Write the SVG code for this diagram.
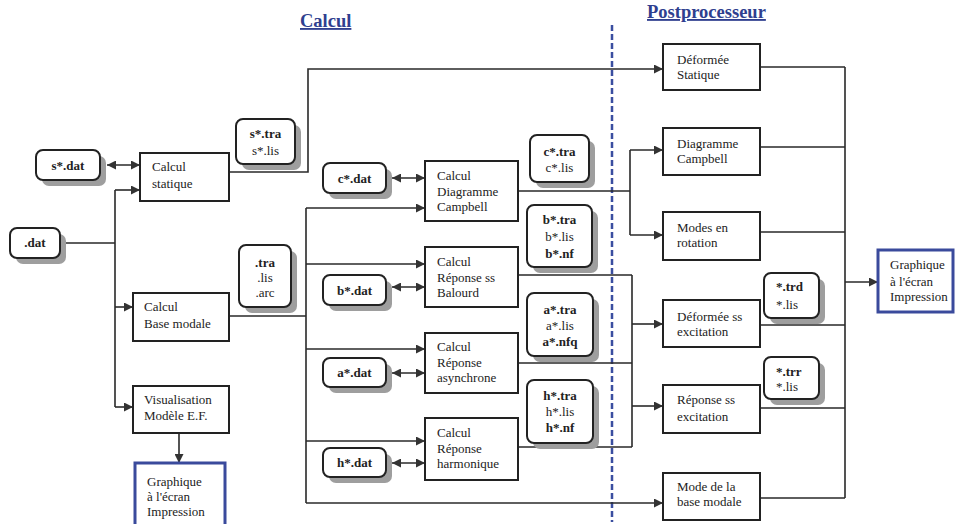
<svg xmlns="http://www.w3.org/2000/svg" width="956" height="524" viewBox="0 0 956 524">
<defs>
<style>
.bg{fill:#ffffff}
.proc{fill:#ffffff;stroke:#222;stroke-width:2}
.file{fill:#ffffff;stroke:#222;stroke-width:2}
.shadow{fill:#9e9e9e}
.out{fill:#ffffff;stroke:#3a4a9c;stroke-width:3}
.t{font-family:"Liberation Serif","Times New Roman",serif;font-size:13px;fill:#222}
.b{font-weight:bold}
.c{text-anchor:middle}
.title{font-family:"Liberation Serif","Times New Roman",serif;font-size:18.5px;font-weight:bold;fill:#2f3f8f;text-decoration:underline}
.ln{fill:none;stroke:#2a2a2a;stroke-width:1.6}
.arr{marker-end:url(#ah)}
.dbl{marker-start:url(#ah);marker-end:url(#ah)}
.dash{stroke:#3a4ea0;stroke-width:2.5;stroke-dasharray:6 3;fill:none}
</style>
<marker id="ah" viewBox="0 0 10 10" refX="10" refY="5" markerWidth="10" markerHeight="9" orient="auto-start-reverse" markerUnits="userSpaceOnUse">
<path d="M0,0 L10,5 L0,10 z" fill="#333"/>
</marker>
</defs>
<rect class="bg" x="0" y="0" width="956" height="524"/>

<g id="titles">
<text class="title" x="300" y="27">Calcul</text>
<text class="title" x="647" y="18">Postprocesseur</text>
<line class="dash" x1="612" y1="25" x2="612" y2="522"/>
</g>

<g id="connectors">
<!-- left column -->
<path class="ln dbl" d="M107,165 H140"/>
<path class="ln" d="M60,243 H115 M115,190 V407"/>
<path class="ln arr" d="M115,190 H140"/>
<path class="ln arr" d="M115,307 H133"/>
<path class="ln arr" d="M115,407 H133"/>
<path class="ln arr" d="M179,433 V463"/>
<!-- static to post -->
<path class="ln arr" d="M229,172 H308 V69 H663"/>
<!-- base modale bus -->
<path class="ln" d="M229,316 H306 M306,208 V503"/>
<path class="ln arr" d="M306,208 H425"/>
<path class="ln arr" d="M306,264 H425"/>
<path class="ln arr" d="M306,349 H425"/>
<path class="ln arr" d="M306,441 H425"/>
<path class="ln arr" d="M306,503 H663"/>
<!-- dat double arrows -->
<path class="ln dbl" d="M392,178 H425"/>
<path class="ln dbl" d="M392,287 H425"/>
<path class="ln dbl" d="M392,373 H425"/>
<path class="ln dbl" d="M392,463 H425"/>
<!-- campbell to post -->
<path class="ln" d="M518,191 H630 M630,150 V235"/>
<path class="ln arr" d="M630,150 H663"/>
<path class="ln arr" d="M630,235 H663"/>
<!-- responses to post -->
<path class="ln" d="M518,275 H632 M518,363 H632 M518,447 H632 M632,275 V447"/>
<path class="ln arr" d="M632,324 H663"/>
<path class="ln arr" d="M632,406 H663"/>
<!-- post to output -->
<path class="ln" d="M760,67 H845 M760,147 H845 M760,232 H845 M760,325 H845 M760,408 H845 M760,498 H845 M845,67 V498"/>
<path class="ln arr" d="M845,282 H878"/>
</g>

<!-- left -->
<g id="sdat">
<rect class="shadow" x="42" y="156" width="64" height="30" rx="7"/>
<rect class="file" x="36" y="150" width="64" height="30" rx="7"/>
<text class="t b c" x="68" y="170">s*.dat</text>
</g>
<g id="dat">
<rect class="shadow" x="16" y="234" width="50" height="30" rx="7"/>
<rect class="file" x="10" y="228" width="50" height="30" rx="7"/>
<text class="t b c" x="35" y="247">.dat</text>
</g>
<g id="calcul-statique">
<rect class="proc" x="140" y="153" width="89" height="48"/>
<text class="t" x="152" y="171">Calcul</text>
<text class="t" x="152" y="188">statique</text>
</g>
<g id="stra">
<rect class="shadow" x="242" y="125" width="59" height="45" rx="7"/>
<rect class="file" x="236" y="119" width="59" height="45" rx="7"/>
<text class="t b c" x="265.5" y="138">s*.tra</text>
<text class="t c" x="265.5" y="155">s*.lis</text>
</g>
<g id="calcul-base-modale">
<rect class="proc" x="133" y="293" width="96" height="48"/>
<text class="t" x="144" y="311">Calcul</text>
<text class="t" x="144" y="328">Base modale</text>
</g>
<g id="tra">
<rect class="shadow" x="245" y="251" width="52" height="62" rx="7"/>
<rect class="file" x="239" y="245" width="52" height="62" rx="7"/>
<text class="t b c" x="265" y="267">.tra</text>
<text class="t c" x="265" y="282">.lis</text>
<text class="t c" x="265" y="297">.arc</text>
</g>
<g id="visualisation">
<rect class="proc" x="133" y="386" width="96" height="47"/>
<text class="t" x="144" y="404">Visualisation</text>
<text class="t" x="144" y="420">Modèle E.F.</text>
</g>
<g id="graphique-left">
<rect class="out" x="135" y="463" width="90" height="70"/>
<text class="t" x="147" y="486">Graphique</text>
<text class="t" x="147" y="501">à l'écran</text>
<text class="t" x="147" y="516">Impression</text>
</g>

<!-- middle -->
<g id="cdat">
<rect class="shadow" x="329" y="169" width="63" height="30" rx="7"/>
<rect class="file" x="323" y="163" width="63" height="30" rx="7"/>
<text class="t b c" x="354.5" y="183">c*.dat</text>
</g>
<g id="calcul-campbell">
<rect class="proc" x="425" y="161" width="93" height="60"/>
<text class="t" x="437" y="180">Calcul</text>
<text class="t" x="437" y="196">Diagramme</text>
<text class="t" x="437" y="211">Campbell</text>
</g>
<g id="ctra">
<rect class="shadow" x="536" y="141" width="59" height="47" rx="7"/>
<rect class="file" x="530" y="135" width="59" height="47" rx="7"/>
<text class="t b c" x="559.5" y="156">c*.tra</text>
<text class="t c" x="559.5" y="172">c*.lis</text>
</g>
<g id="btra">
<rect class="shadow" x="533" y="211" width="65" height="62" rx="7"/>
<rect class="file" x="527" y="205" width="65" height="62" rx="7"/>
<text class="t b c" x="559.5" y="224">b*.tra</text>
<text class="t c" x="559.5" y="241">b*.lis</text>
<text class="t b c" x="559.5" y="258">b*.nf</text>
</g>
<g id="calcul-balourd">
<rect class="proc" x="425" y="247" width="93" height="60"/>
<text class="t" x="437" y="266">Calcul</text>
<text class="t" x="437" y="282">Réponse ss</text>
<text class="t" x="437" y="297">Balourd</text>
</g>
<g id="bdat">
<rect class="shadow" x="329" y="281" width="63" height="30" rx="7"/>
<rect class="file" x="323" y="275" width="63" height="30" rx="7"/>
<text class="t b c" x="354.5" y="295">b*.dat</text>
</g>
<g id="atra">
<rect class="shadow" x="533" y="299" width="66" height="63" rx="7"/>
<rect class="file" x="527" y="293" width="66" height="63" rx="7"/>
<text class="t b c" x="560" y="314">a*.tra</text>
<text class="t c" x="560" y="330">a*.lis</text>
<text class="t b c" x="560" y="346">a*.nfq</text>
</g>
<g id="calcul-asynchrone">
<rect class="proc" x="425" y="333" width="93" height="60"/>
<text class="t" x="437" y="351">Calcul</text>
<text class="t" x="437" y="367">Réponse</text>
<text class="t" x="437" y="382">asynchrone</text>
</g>
<g id="adat">
<rect class="shadow" x="329" y="364" width="63" height="29" rx="7"/>
<rect class="file" x="323" y="358" width="63" height="29" rx="7"/>
<text class="t b c" x="354.5" y="377">a*.dat</text>
</g>
<g id="htra">
<rect class="shadow" x="533" y="386" width="66" height="63" rx="7"/>
<rect class="file" x="527" y="380" width="66" height="63" rx="7"/>
<text class="t b c" x="560" y="400">h*.tra</text>
<text class="t c" x="560" y="416">h*.lis</text>
<text class="t b c" x="560" y="432">h*.nf</text>
</g>
<g id="calcul-harmonique">
<rect class="proc" x="425" y="418" width="93" height="62"/>
<text class="t" x="437" y="437">Calcul</text>
<text class="t" x="437" y="453">Réponse</text>
<text class="t" x="437" y="468">harmonique</text>
</g>
<g id="hdat">
<rect class="shadow" x="329" y="454" width="63" height="29" rx="7"/>
<rect class="file" x="323" y="448" width="63" height="29" rx="7"/>
<text class="t b c" x="354.5" y="467">h*.dat</text>
</g>

<!-- post -->
<g id="deformee-statique">
<rect class="proc" x="663" y="44" width="97" height="46"/>
<text class="t" x="677" y="64">Déformée</text>
<text class="t" x="677" y="79">Statique</text>
</g>
<g id="diagramme-campbell">
<rect class="proc" x="663" y="128" width="97" height="47"/>
<text class="t" x="677" y="148">Diagramme</text>
<text class="t" x="677" y="163">Campbell</text>
</g>
<g id="modes-rotation">
<rect class="proc" x="663" y="212" width="97" height="48"/>
<text class="t" x="677" y="232">Modes en</text>
<text class="t" x="677" y="247">rotation</text>
</g>
<g id="deformee-excitation">
<rect class="proc" x="663" y="300" width="97" height="47"/>
<text class="t" x="677" y="321">Déformée ss</text>
<text class="t" x="677" y="336">excitation</text>
</g>
<g id="trd">
<rect class="shadow" x="770" y="279" width="55" height="45" rx="7"/>
<rect class="file" x="764" y="273" width="55" height="45" rx="7"/>
<text class="t b" x="776" y="291">*.trd</text>
<text class="t" x="776" y="309">*.lis</text>
</g>
<g id="reponse-excitation">
<rect class="proc" x="663" y="385" width="97" height="48"/>
<text class="t" x="677" y="404">Réponse ss</text>
<text class="t" x="677" y="421">excitation</text>
</g>
<g id="trr">
<rect class="shadow" x="770" y="363" width="55" height="42" rx="7"/>
<rect class="file" x="764" y="357" width="55" height="42" rx="7"/>
<text class="t b" x="776" y="376">*.trr</text>
<text class="t" x="776" y="391">*.lis</text>
</g>
<g id="mode-base-modale">
<rect class="proc" x="663" y="473" width="97" height="47"/>
<text class="t" x="677" y="491">Mode de la</text>
<text class="t" x="677" y="506">base modale</text>
</g>
<g id="graphique-right">
<rect class="out" x="878" y="250" width="75" height="62"/>
<text class="t" x="890" y="269">Graphique</text>
<text class="t" x="890" y="286">à l'écran</text>
<text class="t" x="890" y="301">Impression</text>
</g>
</svg>
